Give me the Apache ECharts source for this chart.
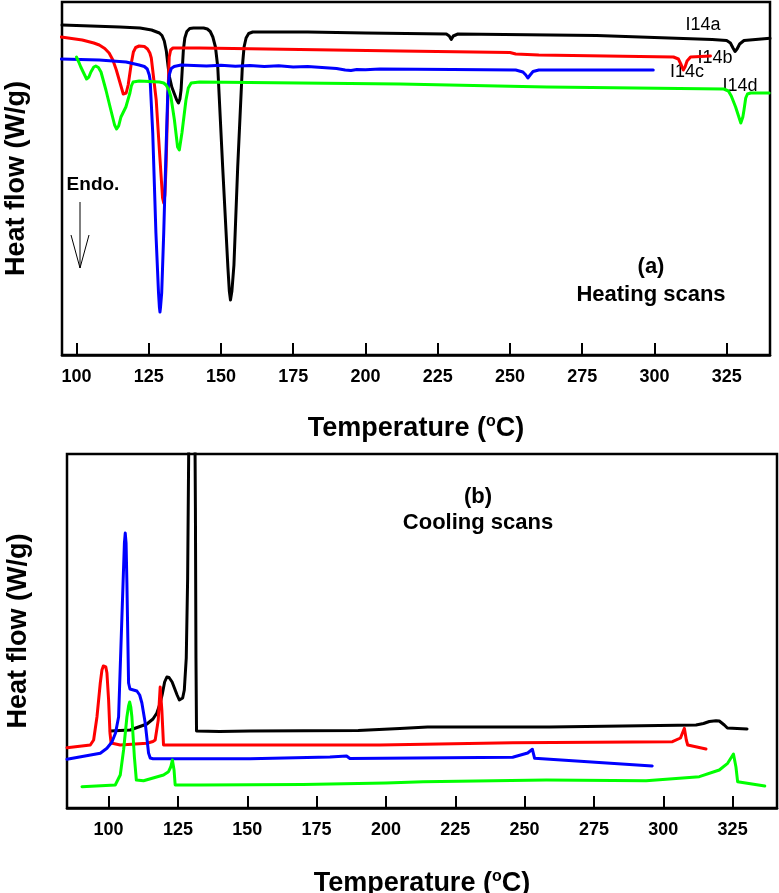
<!DOCTYPE html>
<html><head><meta charset="utf-8">
<script src="https://cdn.jsdelivr.net/npm/echarts@6/dist/echarts.min.js"></script>
<style>html,body{margin:0;padding:0;background:#fff}#c{width:779px;height:893px}</style>
</head><body><div id="c"></div>
<script>
// Tick labels (°C)
const tickValues = [100, 125, 150, 175, 200, 225, 250, 275, 300, 325];
const seriesNames = ['I14a', 'I14b', 'I14c', 'I14d'];

// (a) Heating scans: [temperature °C, heat flow (arb. units)]
const heatI14a = [[95,330],[105,329],[115,328],[122,327],[126,325],[128.7,322],[129.6,319.5],[130.4,314],[131.1,304],[131.7,289],[132.2,278],[133,268],[133.9,261],[134.7,255],[135.3,252],[135.8,256],[136.2,265],[136.6,285],[137,305],[137.5,317],[138.2,323.5],[139.2,326.5],[140.5,327],[144,327],[145.3,326],[146.3,323.5],[147.2,318],[148.1,308],[148.9,288],[150.6,188],[152.4,88],[152.9,64],[153.3,55],[153.8,64],[154.5,90],[155.8,188],[157.4,288],[158,308],[158.7,317],[159.6,321.5],[161,323],[180,323],[200,322],[228,321],[229,319],[229.7,315.5],[230.4,319],[232,321],[280,319.5],[320,315.5],[325,314.5],[326.3,312],[327.2,307],[327.9,303.5],[328.6,306],[329.5,311],[331,314.5],[340,316.7]];
const heatI14b = [[94.7,318],[102,315],[106,312],[107.9,310],[109.8,306.5],[111.3,302],[112.6,295],[113.8,285],[115.5,268],[116.2,261],[116.6,259],[117.2,262],[117.9,270],[119,292],[119.7,303],[120.5,307.5],[121.7,309],[123.5,308.5],[124.6,306],[125.4,302],[125.9,297],[127.6,255],[128.7,205],[129.8,157],[130.2,152],[130.6,160],[131,188],[131.6,255],[132.1,298],[132.6,305],[133.4,307],[142.6,307],[212,304],[250,302.5],[252,301],[260,300],[306.6,298],[308.3,296],[309.3,290],[310,285],[310.6,288],[311.3,294],[312.5,298],[319.4,299]];
const heatI14c = [[94.7,296],[107.9,295],[117.2,293],[121.7,290],[123.5,288.5],[124.5,286],[125.2,280],[125.5,275],[126.4,222],[127.5,122],[128.4,62],[128.7,48],[128.9,43],[129.1,48],[129.5,62],[130.2,122],[131,205],[131.6,262],[132.1,280],[132.8,286.5],[133.8,288.5],[136.2,290],[145,289],[150,289.8],[155,288.8],[160,289.5],[165,288.5],[170,289.2],[175,288],[180,288.6],[185,287.5],[190,286.5],[193,285],[195,284.5],[197,285.5],[200,285.3],[205,286],[230,285.5],[252,285],[254.5,283],[255.5,280],[256.2,277],[257,280],[258,283.5],[260,285],[299.6,285]];
const heatI14d = [[100,298],[100.8,293],[101.5,288],[103.5,276],[104.3,278],[105,283],[106,288],[106.7,289],[107.6,287.5],[108.5,283],[110.2,265],[111.9,245],[113.2,230],[113.9,226],[114.6,229],[115.4,238],[117.1,248],[118.5,262],[119,269],[119.6,273],[121.7,274],[128.7,273],[130.2,272],[131,270],[132,265],[132.7,258],[133.9,235],[135,208],[135.6,205],[136.5,222],[137.9,255],[138.7,267],[139.7,272],[142.6,273],[212,271],[262.8,268],[324,266],[325.6,264],[326.6,259],[328.1,248],[329.9,232],[330.6,238],[331,245],[331.6,257],[332.2,261],[333.3,262],[339.7,262]];

// (b) Cooling scans
const coolI14a = [[100.6,77],[107.8,78],[113.8,84],[116,89],[117.4,95],[118.5,104],[119.3,113],[120.2,126],[121,131],[121.8,130.5],[122.9,126],[124.7,113],[125.5,108],[126.1,107],[126.7,110],[127.3,118],[128,150],[128.5,230],[128.8,330],[129.1,430],[130,900],[131,430],[131.3,300],[131.5,150],[131.7,77],[140,76.5],[151,77],[190,77.5],[205,79.5],[215,81],[259,81],[311.8,83],[314.5,84.5],[316.6,86.5],[319,87.3],[320.2,87],[320.9,86],[322,83],[323.1,80],[330.2,79]];
const coolI14b = [[85,60.3],[93.4,63],[94.6,68],[95.8,91],[97,125],[97.6,138],[98.1,142],[98.6,143],[99,141],[99.4,135],[100,108],[100.5,75],[100.9,65],[101.5,63],[104.2,63],[113.8,64.7],[116,66.5],[116.8,68],[117.9,88],[118.6,121],[119.2,98],[119.8,63],[151,63],[197.8,63],[245.7,65.3],[303.3,66.3],[306.2,70],[307.6,79.7],[308.3,68],[308.8,63],[315.4,59]];
const coolI14c = [[85,48.7],[97,54.7],[99.4,59.7],[101.2,66],[102.5,75],[103.6,91],[104.8,191],[105.7,265],[106,275],[106.3,265],[106.6,225],[107.2,125],[107.7,119],[108.4,118],[110.2,117],[111.2,113],[112,105],[113.2,85],[114.4,55],[115,50],[116,49.3],[151,49.3],[179.8,51],[185.8,52],[187,49.5],[245.7,50.7],[251.1,55],[252.8,58.7],[253.6,49.7],[296,42]];
const coolI14d = [[90.4,21.3],[102.4,23],[104.2,33],[105.4,58],[106.6,91],[107.2,102],[107.6,106],[108,101],[108.4,91],[109.3,51],[110,28],[112.6,27.3],[119.8,33],[121.6,36.3],[122.4,41],[123,48],[123.6,38],[124,23],[133,23],[170,23.5],[200,25],[213.4,26.3],[257.8,28],[293.8,27.3],[313,31.3],[320.2,38],[323.2,44.7],[325.3,54],[326.2,41],[326.8,26.3],[336.6,22]];

const colors = ['#000000', '#ff0000', '#0000ff', '#00ff00'];
const FF = '"Liberation Sans", Arial, sans-serif';

function xAxisCfg(gridIndex, min, max, gap) {
  return {
    type: 'value', gridIndex, min, max,
    axisLine: {show: true, onZero: false, lineStyle: {color: '#000', width: 2.5}},
    axisTick: {show: true, inside: true, length: 12, customValues: tickValues, lineStyle: {color: '#000', width: 2}},
    axisLabel: {show: true, customValues: tickValues, margin: 13, color: '#000', fontSize: 18, fontWeight: 'bold', fontFamily: FF},
    splitLine: {show: false},
    name: '{t|Temperature (}{s|o}{t|C)}',
    nameLocation: 'middle', nameGap: gap,
    nameTextStyle: {rich: {
      t: {fontSize: 27, fontWeight: 'bold', fontFamily: FF, color: '#000', lineHeight: 30},
      s: {fontSize: 16, fontWeight: 'bold', fontFamily: FF, color: '#000', verticalAlign: 'top', lineHeight: 30, padding: [0, 0, 10, 0]}
    }}
  };
}
function yAxisCfg(gridIndex, max, gap) {
  return {
    type: 'value', gridIndex, min: 0, max,
    axisLine: {show: false}, axisTick: {show: false}, axisLabel: {show: false}, splitLine: {show: false},
    name: 'Heat flow (W/g)', nameLocation: 'middle', nameRotate: 90, nameGap: gap,
    nameTextStyle: {fontSize: 27, fontWeight: 'bold', fontFamily: FF, color: '#000'}
  };
}
function lineSeries(name, data, color, xi) {
  return {
    name, type: 'line', data, xAxisIndex: xi, yAxisIndex: xi,
    showSymbol: false, symbol: 'none', smooth: false, clip: true,
    lineStyle: {color, width: 3, join: 'round', cap: 'round'}, itemStyle: {color}, z: 3
  };
}

const heating = [heatI14a, heatI14b, heatI14c, heatI14d];
const cooling = [coolI14a, coolI14b, coolI14c, coolI14d];

const option = {
  animation: false,
  backgroundColor: '#fff',
  grid: [
    {left: 62, top: 2, width: 708, height: 353, show: true, borderColor: '#000', borderWidth: 2.5, backgroundColor: 'transparent', containLabel: false, outerBoundsMode: 'none'},
    {left: 67, top: 454, width: 710, height: 354, show: true, borderColor: '#000', borderWidth: 2.5, backgroundColor: 'transparent', containLabel: false, outerBoundsMode: 'none'}
  ],
  xAxis: [xAxisCfg(0, 95, 340, 59), xAxisCfg(1, 85, 341, 61)],
  yAxis: [yAxisCfg(0, 353, 32), yAxisCfg(1, 354, 35)],
  series: [
    ...heating.map((d, i) => lineSeries(seriesNames[i] + ' heating', d, colors[i], 0)),
    ...cooling.map((d, i) => lineSeries(seriesNames[i] + ' cooling', d, colors[i], 1))
  ],
  graphic: [
    {type: 'text', x: 703, y: 25, style: {text: 'I14a', font: '18px ' + FF, fill: '#000', textAlign: 'center', textVerticalAlign: 'middle'}},
    {type: 'text', x: 715, y: 58, style: {text: 'I14b', font: '18px ' + FF, fill: '#000', textAlign: 'center', textVerticalAlign: 'middle'}},
    {type: 'text', x: 687, y: 72, style: {text: 'I14c', font: '18px ' + FF, fill: '#000', textAlign: 'center', textVerticalAlign: 'middle'}},
    {type: 'text', x: 740, y: 86, style: {text: 'I14d', font: '18px ' + FF, fill: '#000', textAlign: 'center', textVerticalAlign: 'middle'}},
    {type: 'text', x: 651, y: 267, style: {text: '(a)', font: 'bold 22px ' + FF, fill: '#000', textAlign: 'center', textVerticalAlign: 'middle'}},
    {type: 'text', x: 651, y: 295, style: {text: 'Heating scans', font: 'bold 22px ' + FF, fill: '#000', textAlign: 'center', textVerticalAlign: 'middle'}},
    {type: 'text', x: 93, y: 185, style: {text: 'Endo.', font: 'bold 19px ' + FF, fill: '#000', textAlign: 'center', textVerticalAlign: 'middle'}},
    {type: 'line', shape: {x1: 80, y1: 202, x2: 80, y2: 268}, style: {stroke: '#000', lineWidth: 1}},
    {type: 'polyline', shape: {points: [[71, 235], [80, 268], [89, 235]]}, style: {stroke: '#000', lineWidth: 1, fill: null}},
    {type: 'text', x: 478, y: 497, style: {text: '(b)', font: 'bold 22px ' + FF, fill: '#000', textAlign: 'center', textVerticalAlign: 'middle'}},
    {type: 'text', x: 478, y: 523, style: {text: 'Cooling scans', font: 'bold 22px ' + FF, fill: '#000', textAlign: 'center', textVerticalAlign: 'middle'}}
  ]
};

const chart = echarts.init(document.getElementById('c'), null, {renderer: 'canvas'});
chart.setOption(option);
</script>
</body></html>
